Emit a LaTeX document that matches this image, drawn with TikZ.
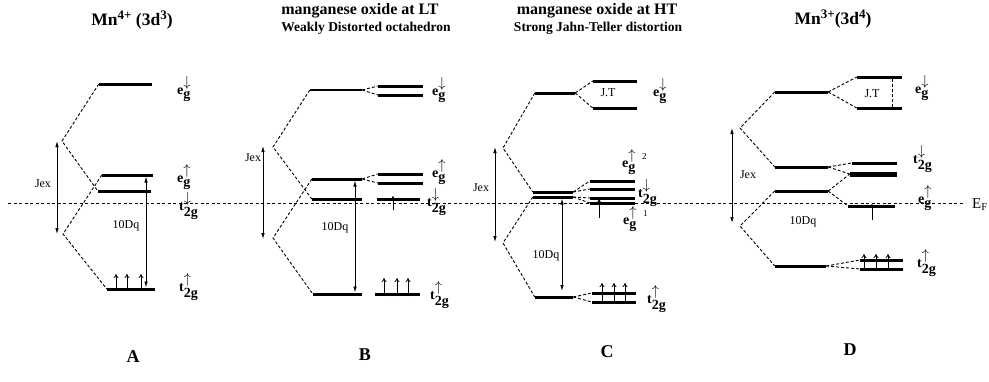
\documentclass[tikz,border=0pt]{standalone}
\usepackage{fontspec}
\setmainfont{Liberation Serif}
\usepackage{amsmath}
\usetikzlibrary{arrows,arrows.meta}

\newcommand{\orb}[3]{\textbf{#1}$^{\mbox{$#2$}}_{\mbox{\bfseries #3}}$}
\newcommand{\ionsup}[1]{\raisebox{0.75ex}{\fontsize{13}{13}\selectfont #1}}

\begin{document}
\begin{tikzpicture}[x=1pt,y=-1pt,
lev/.style={fill=black,inner sep=0pt,minimum height=3pt},
thinlev/.style={lev,minimum height=2pt},
fatlev/.style={lev,minimum height=5pt},
conn/.style={dash pattern=on 3pt off 2pt,line width=0.9pt},
fermi/.style={dash pattern=on 3pt off 2.5pt,line width=0.9pt},
gap/.style={{Latex[length=6pt,width=3.5pt]}-{Latex[length=6pt,width=3.5pt]},line width=0.8pt},
spin/.style={-{To[length=4pt,width=5pt]},line width=0.8pt},
heading/.style={font=\bfseries\fontsize{16}{18}\selectfont},
ion/.style={font=\bfseries\fontsize{17.5}{19}\selectfont},
subheading/.style={font=\bfseries\fontsize{13.5}{15}\selectfont},
panel/.style={font=\bfseries\fontsize{18}{20}\selectfont},
orb/.style={anchor=base west,inner sep=0pt,font=\fontsize{14}{16}\selectfont},
gaplabel/.style={font=\fontsize{12}{14}\selectfont}]

\useasboundingbox (0,0) rectangle (989,381);

% Fermi level
\coordinate (Fl) at (8,203);
\coordinate (Fr) at (965,203);
\draw[fermi] (Fl) -- (Fr);
\node[anchor=base west,inner sep=0pt,font=\fontsize{15}{16}\selectfont] (EF) at (972,208) {E$_{\mathrm{F}}$};

% A : Mn4+
\node[ion] (Atitle) at (132,20) {Mn\ionsup{4+} (3d\ionsup{3})};
\node[lev,minimum width=53] (Aed) at (125.5,84) {};
\node[lev,minimum width=51] (Aeu) at (127.5,175) {};
\node[lev,minimum width=53] (Atd) at (124.5,191) {};
\node[lev,minimum width=48] (Atu) at (131,289) {};
\coordinate (Ahi) at (62,141);
\coordinate (Alo) at (63,234);
\draw[conn] (Aed.west) -- (Ahi) -- (Atd.west);
\draw[conn] (Aeu.west) -- (Alo) -- (Atu.west);
\coordinate (AJa) at (57,141);
\coordinate (AJb) at (57,234);
\draw[gap] (AJa) -- (AJb);
\node[gaplabel] (AJ) at (43,184) {Jex};
\coordinate (ADa) at (146,176.5);
\coordinate (ADb) at (146,287.5);
\draw[gap] (ADa) -- (ADb);
\node[gaplabel] (AD) at (126,226) {10Dq};
\foreach \x in {116,127,141} \draw[spin] (\x,291) -- (\x,274);
\node[orb] (Aled) at (177,94) {\orb{e}{\downarrow}{g}};
\node[orb] (Aleu) at (177,182) {\orb{e}{\uparrow}{g}};
\node[orb] (Altd) at (179,210) {\orb{t}{\downarrow}{2g}};
\node[orb] (Altu) at (179,291) {\orb{t}{\uparrow}{2g}};
\node[panel] (Aname) at (133,357) {A};

% B : LT, weak distortion
\node[heading] (Btitle) at (360,11) {manganese oxide at LT};
\node[subheading] (Bsub) at (366,28) {Weakly Distorted octahedron};
\node[thinlev,minimum width=52] (Bed) at (336,90) {};
\node[lev,minimum width=45] (Bed1) at (400.5,86) {};
\node[lev,minimum width=45] (Bed2) at (400.5,95) {};
\node[lev,minimum width=50] (Beu) at (337,179) {};
\node[lev,minimum width=45] (Beu1) at (400.5,174) {};
\node[lev,minimum width=45] (Beu2) at (400.5,183) {};
\node[lev,minimum width=50] (Btd) at (337,199) {};
\node[lev,minimum width=43] (Btd1) at (398.5,199) {};
\node[lev,minimum width=49] (Btu) at (337.5,294) {};
\node[lev,minimum width=45] (Btu1) at (397.5,294) {};
\coordinate (Bhi) at (273,147);
\coordinate (Blo) at (273,238);
\draw[conn] (Bed.west) -- (Bhi) -- (Btd.west);
\draw[conn] (Beu.west) -- (Blo) -- (Btu.west);
\draw[conn] (Bed.east) -- (Bed1.west);
\draw[conn] (Bed.east) -- (Bed2.west);
\draw[conn] (Beu.east) -- (Beu1.west);
\draw[conn] (Beu.east) -- (Beu2.west);
\coordinate (BJa) at (263,146);
\coordinate (BJb) at (263,239);
\draw[gap] (BJa) -- (BJb);
\node[gaplabel] (BJ) at (253,158) {Jex};
\coordinate (BDa) at (355,180.5);
\coordinate (BDb) at (355,292.5);
\draw[gap] (BDa) -- (BDb);
\node[gaplabel] (BD) at (335,228) {10Dq};
\draw[spin] (393,210) -- (393,196);
\foreach \x in {384,397,408} \draw[spin] (\x,296) -- (\x,278);
\node[orb] (Bled) at (432,95) {\orb{e}{\downarrow}{g}};
\node[orb] (Bleu) at (432,177) {\orb{e}{\uparrow}{g}};
\node[orb] (Bltd) at (427,206) {\orb{t}{\downarrow}{2g}};
\node[orb] (Bltu) at (430,299) {\orb{t}{\uparrow}{2g}};
\node[panel] (Bname) at (365,355) {B};

% C : HT, strong Jahn-Teller
\node[heading] (Ctitle) at (597,11) {manganese oxide at HT};
\node[subheading] (Csub) at (598,28) {Strong Jahn-Teller distortion};
\node[lev,minimum width=40] (Ced) at (555,93) {};
\node[lev,minimum width=44] (Ced1) at (615,81) {};
\node[lev,minimum width=44] (Ced2) at (615,108) {};
\node[gaplabel] (CJT) at (608,93) {J.T};
\node[lev,minimum width=40] (Cm1) at (553,192) {};
\node[lev,minimum width=40] (Cm2) at (553,197) {};
\node[lev,minimum width=45] (Cr1) at (612.5,181) {};
\node[lev,minimum width=45] (Cr2) at (612.5,189) {};
\node[lev,minimum width=45] (Cr3) at (612.5,198) {};
\node[lev,minimum width=45] (Cr4) at (612.5,203) {};
\node[lev,minimum width=38] (Ctu) at (554,297) {};
\node[lev,minimum width=44] (Ctu1) at (614,293) {};
\node[lev,minimum width=44] (Ctu2) at (614,302) {};
\coordinate (Chi) at (503,148);
\coordinate (Clo) at (503,243);
\draw[conn] (Ced.west) -- (Chi) -- (Cm1.west);
\draw[conn] (Cm2.west) -- (Clo) -- (Ctu.west);
\draw[conn] (Ced.east) -- (Ced1.west);
\draw[conn] (Ced.east) -- (Ced2.west);
\draw[conn] (Cm1.east) -- (Cr1.west);
\draw[conn] (Cm1.east) -- (Cr2.west);
\draw[conn] (Cm2.east) -- (Cr3.west);
\draw[conn] (Cm2.east) -- (Cr4.west);
\draw[conn] (Ctu.east) -- (Ctu1.west);
\draw[conn] (Ctu.east) -- (Ctu2.west);
\coordinate (CJa) at (495,147);
\coordinate (CJb) at (495,242);
\draw[gap] (CJa) -- (CJb);
\node[gaplabel] (CJ) at (481,188) {Jex};
\coordinate (CDa) at (562,198.5);
\coordinate (CDb) at (562,291);
\draw[gap] (CDa) -- (CDb);
\node[gaplabel] (CD) at (546,256) {10Dq};
\draw[spin] (599,218) -- (599,199);
\foreach \x in {602,614,625} \draw[spin] (\x,303) -- (\x,283);
\node[orb] (Cled) at (653,96) {\orb{e}{\downarrow}{g}};
\node[orb] (Cleu2) at (622,167) {\orb{e}{\uparrow\,\mbox{\normalfont\small 2}}{g}};
\node[orb] (Cltd) at (638,197) {\orb{t}{\downarrow}{2g}};
\node[orb] (Cleu1) at (623,224) {\orb{e}{\uparrow\,\mbox{\normalfont\small 1}}{g}};
\node[orb] (Cltu) at (647,303) {\orb{t}{\uparrow}{2g}};
\node[panel] (Cname) at (607,352) {C};

% D : Mn3+
\node[ion] (Dtitle) at (833,19) {Mn\ionsup{3+}(3d\ionsup{4})};
\node[lev,minimum width=53] (Ded) at (801.5,92) {};
\node[lev,minimum width=45] (Ded1) at (879.5,77) {};
\node[lev,minimum width=45] (Ded2) at (879.5,108) {};
\node[gaplabel] (DJT) at (872,94) {J.T};
\coordinate (DJTa) at (892,78.5);
\coordinate (DJTb) at (892,106.5);
\draw[conn] (DJTa) -- (DJTb);
\node[lev,minimum width=53] (Dtd) at (801.5,167) {};
\node[lev,minimum width=45] (Dtd1) at (874.5,163) {};
\node[fatlev,minimum width=47] (Dtd2) at (873.5,174) {};
\node[lev,minimum width=53] (Deu) at (801.5,191) {};
\node[lev,minimum width=47] (Deu1) at (871.5,206) {};
\node[lev,minimum width=51] (Dtu) at (800.5,266) {};
\node[lev,minimum width=43] (Dtu1) at (881.5,260) {};
\node[lev,minimum width=43] (Dtu2) at (881.5,269) {};
\coordinate (Dhi) at (740,128);
\coordinate (Dlo) at (740,226);
\draw[conn] (Ded.west) -- (Dhi) -- (Dtd.west);
\draw[conn] (Deu.west) -- (Dlo) -- (Dtu.west);
\draw[conn] (Ded.east) -- (Ded1.west);
\draw[conn] (Ded.east) -- (Ded2.west);
\draw[conn] (Dtd.east) -- (Dtd1.west);
\draw[conn] (Dtd.east) -- (Dtd2.west);
\draw[conn] (Deu.east) -- (Dtd2.west);
\draw[conn] (Deu.east) -- (Deu1.west);
\draw[conn] (Dtu.east) -- (Dtu1.west);
\draw[conn] (Dtu.east) -- (Dtu2.west);
\coordinate (DJa) at (732,128);
\coordinate (DJb) at (732,223);
\draw[gap] (DJa) -- (DJb);
\node[gaplabel] (DJ) at (748,175) {Jex};
\node[gaplabel] (DD) at (803,222) {10Dq};
\draw[spin] (872,220) -- (872,204);
\foreach \x in {864,876,888} \draw[spin] (\x,270) -- (\x,254);
\node[orb] (Dled) at (915,93) {\orb{e}{\downarrow}{g}};
\node[orb] (Dltd) at (913,163) {\orb{t}{\downarrow}{2g}};
\node[orb] (Dleu) at (918,203) {\orb{e}{\uparrow}{g}};
\node[orb] (Dltu) at (917,267) {\orb{t}{\uparrow}{2g}};
\node[panel] (Dname) at (850,350) {D};

\end{tikzpicture}
\end{document}
